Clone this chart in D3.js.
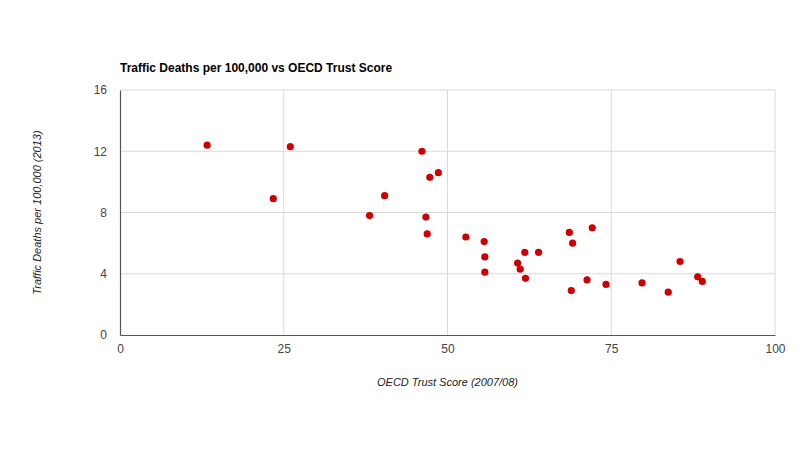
<!DOCTYPE html>
<html>
<head>
<meta charset="utf-8">
<script src="https://cdn.jsdelivr.net/npm/d3@7"></script>
<style>
  body { margin: 0; background: #fff; }
  svg { font-family: Arial, "Liberation Sans", sans-serif; }
</style>
</head>
<body>
<svg width="800" height="450"></svg>
<script>
// OECD trust score (2007/08) and traffic deaths per 100,000 (2013)
var trustScore = [13.3, 23.4, 26.0, 38.1, 40.4, 46.1, 47.3, 48.6, 46.7, 46.9,
                  52.8, 55.6, 55.7, 55.7, 60.7, 61.1, 61.8, 61.9, 63.9, 68.6,
                  69.1, 68.9, 72.1, 71.3, 74.2, 79.7, 83.7, 85.5, 88.2, 88.9];
var trafficDeaths = [12.4, 8.9, 12.3, 7.8, 9.1, 12.0, 10.3, 10.6, 7.7, 6.6,
                     6.4, 6.1, 5.1, 4.1, 4.7, 4.3, 5.4, 3.7, 5.4, 6.7,
                     6.0, 2.9, 7.0, 3.6, 3.3, 3.4, 2.8, 4.8, 3.8, 3.5];
var xTicks = [0, 25, 50, 75, 100];
var yTicks = [0, 4, 8, 12, 16];

var svg = d3.select("svg");
var margin = {left: 120, right: 25, top: 90, bottom: 115};
var width = 800 - margin.left - margin.right,
    height = 450 - margin.top - margin.bottom;

var x = d3.scaleLinear().domain([0, 100]).range([0, width]);
var y = d3.scaleLinear().domain([0, 16]).range([height, 0]);

var g = svg.append("g")
    .attr("transform", "translate(" + margin.left + "," + margin.top + ")");

// gridlines
g.append("g")
    .selectAll("line")
    .data(xTicks.slice(1))
    .enter().append("line")
    .attr("x1", function (d) { return x(d); })
    .attr("x2", function (d) { return x(d); })
    .attr("y1", 0)
    .attr("y2", height)
    .attr("stroke", "#d9d9d9");

g.append("g")
    .selectAll("line")
    .data(yTicks.slice(1))
    .enter().append("line")
    .attr("x1", 0)
    .attr("x2", width)
    .attr("y1", function (d) { return y(d); })
    .attr("y2", function (d) { return y(d); })
    .attr("stroke", "#d9d9d9");

// axes
var xAxis = g.append("g")
    .attr("transform", "translate(0," + height + ")")
    .call(d3.axisBottom(x).tickValues(xTicks).tickSize(0).tickPadding(9));
xAxis.select(".domain").attr("stroke", "#555").attr("stroke-width", 1.2);
xAxis.selectAll("text").attr("font-size", 12).attr("fill", "#444");

var yAxis = g.append("g")
    .call(d3.axisLeft(y).tickValues(yTicks).tickSize(0).tickPadding(13));
yAxis.select(".domain").attr("stroke", "#555").attr("stroke-width", 1.2);
yAxis.selectAll("text").attr("font-size", 12).attr("fill", "#444");

// points
g.append("g")
    .selectAll("circle")
    .data(trustScore.map(function (d, i) { return [d, trafficDeaths[i]]; }))
    .enter().append("circle")
    .attr("cx", function (d) { return x(d[0]); })
    .attr("cy", function (d) { return y(d[1]); })
    .attr("r", 3.6)
    .attr("fill", "#cc0000");

// titles
svg.append("text")
    .attr("x", 120)
    .attr("y", 72)
    .attr("font-size", 12)
    .attr("font-weight", "bold")
    .attr("fill", "#000")
    .text("Traffic Deaths per 100,000 vs OECD Trust Score");

svg.append("text")
    .attr("x", margin.left + width / 2)
    .attr("y", 386)
    .attr("text-anchor", "middle")
    .attr("font-size", 11)
    .attr("font-style", "italic")
    .attr("fill", "#222")
    .text("OECD Trust Score (2007/08)");

svg.append("text")
    .attr("transform", "translate(41," + (margin.top + height / 2) + ") rotate(-90)")
    .attr("text-anchor", "middle")
    .attr("font-size", 11)
    .attr("font-style", "italic")
    .attr("fill", "#222")
    .text("Traffic Deaths per 100,000 (2013)");
</script>
</body>
</html>
